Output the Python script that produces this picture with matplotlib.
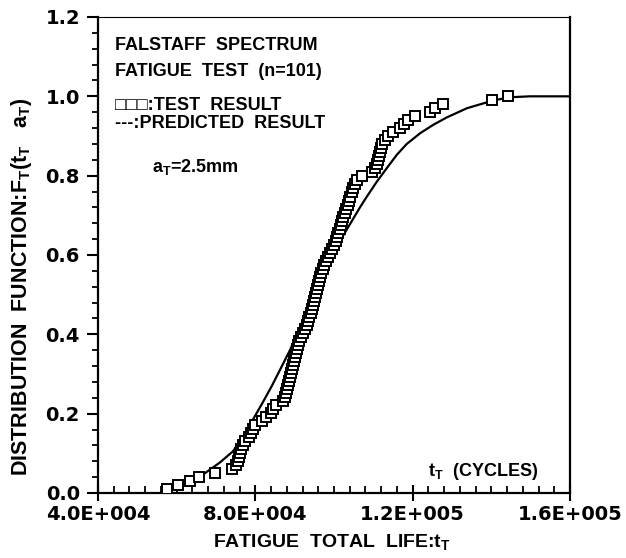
"""
Fatigue life distribution: Falstaff spectrum test vs predicted CDF.
"""
import numpy as np
import matplotlib
matplotlib.use("Agg")
import matplotlib.pyplot as plt
from matplotlib.ticker import MultipleLocator, FixedLocator, FuncFormatter

plt.rcParams["mathtext.fontset"] = "custom"
plt.rcParams["mathtext.rm"] = "Liberation Sans"
plt.rcParams["mathtext.bf"] = "Liberation Sans:bold"

# test lives (cycles), sorted, n = 101
test_life = [
    57500, 60300, 63400, 65700, 69700, 74100, 75100, 75600, 75800, 76100,
    76400, 76900, 77400, 78400, 78900, 79400, 79900, 81700, 82700, 84000,
    84500, 85200, 87000, 87500, 87800, 88000, 88300, 88600, 88800, 89100,
    89300, 89600, 89800, 90100, 90300, 90600, 90800, 91100, 91600, 92100,
    92600, 93100, 93400, 93600, 94100, 94400, 94700, 94900, 95200, 95400,
    95700, 95900, 96200, 96400, 96700, 97200, 97400, 98000, 98500, 99000,
    99500, 100000, 100500, 100800, 101000, 101500, 101800, 102000, 102300, 102800,
    103000, 103600, 103800, 104100, 104600, 104800, 105300, 105800, 107100, 109700,
    110400, 110900, 111200, 111400, 111700, 111900, 112200, 113000, 113700, 115000,
    116800, 117800, 118800, 120600, 124400, 125700, 127700, 140200, 144200,
]

# predicted distribution curve
pred_life = [
    55800, 59600, 63400, 67200, 71000, 74300, 76900, 79100, 81700, 84200,
    86500, 88800, 91300, 93900, 96400, 99000, 101800, 104800, 106600, 108400,
    110900, 113500, 116000, 118500, 121900, 125200, 128700, 133800, 138900, 142200,
    145500, 149800, 160000,
]
pred_F = [
    0.0, 0.012, 0.028, 0.05, 0.077, 0.105, 0.14, 0.18, 0.225, 0.27,
    0.315, 0.36, 0.415, 0.47, 0.53, 0.585, 0.64, 0.69, 0.72, 0.748,
    0.785, 0.82, 0.853, 0.88, 0.907, 0.928, 0.947, 0.97, 0.985, 0.993,
    0.998, 1.0, 1.0,
]

x_ticks = [40000, 80000, 120000, 160000]

n = len(test_life)
test_F = np.arange(1, n + 1) / n  # empirical distribution

fig = plt.figure(figsize=(6.26, 5.58), dpi=100)
ax = fig.add_axes([98 / 626, 1 - 493 / 558, 472 / 626, 476 / 558])

ax.plot(pred_life, pred_F, color="black", linewidth=1.6, zorder=2)
ax.plot(test_life, test_F, linestyle="none", marker="s", markersize=7.6,
        markerfacecolor="white", markeredgecolor="black", markeredgewidth=1.4,
        zorder=3)

ax.set_xlim(40000, 160000)
ax.set_ylim(0, 1.2)

ax.xaxis.set_major_locator(FixedLocator(x_ticks))
ax.xaxis.set_minor_locator(MultipleLocator(4000))
ax.xaxis.set_major_formatter(FuncFormatter(
    lambda v, p: "%.1fE+%03d" % (v / 10 ** int(np.floor(np.log10(v))),
                                 int(np.floor(np.log10(v))))))
ax.yaxis.set_major_locator(MultipleLocator(0.2))
ax.yaxis.set_minor_locator(MultipleLocator(0.04))
ax.yaxis.set_major_formatter(FuncFormatter(lambda v, p: "%.1f" % v))

ax.tick_params(axis="x", which="major", direction="inout", length=12,
               width=1.5, pad=3)
ax.tick_params(axis="x", which="minor", direction="in", length=5, width=1.3)
ax.tick_params(axis="y", which="major", direction="out", length=8,
               width=1.5, pad=5)
ax.tick_params(axis="y", which="minor", direction="out", length=4, width=1.3)
for lab in ax.get_xticklabels() + ax.get_yticklabels():
    lab.set_fontfamily("DejaVu Sans")
    lab.set_fontweight("bold")
    lab.set_fontsize(14)

for side in ["left", "bottom", "right"]:
    ax.spines[side].set_linewidth(1.6)
ax.spines["top"].set_linewidth(0.8)

txt = dict(family="Liberation Sans", weight="bold", fontsize=13,
           color="black", transform=ax.transAxes, va="center", ha="left")


def ax_xy(px, py):
    return (px - 98) / 472, (493 - py) / 476


ax.text(*ax_xy(115, 45), "FALSTAFF  SPECTRUM", **txt)
ax.text(*ax_xy(115, 71), "FATIGUE  TEST  (n=101)", **txt)
ax.text(*ax_xy(115, 106), "\u25a1\u25a1\u25a1:TEST  RESULT",
        **{**txt, "family": ["Liberation Sans", "DejaVu Sans"]})
ax.text(*ax_xy(115, 123), "---:PREDICTED  RESULT", **txt)
ax.text(*ax_xy(152, 167), r"a$\mathregular{_T}$=2.5mm", **txt)
ax.text(*ax_xy(428, 472), r"t$\mathregular{_T}$  (CYCLES)", **txt)

lab = dict(family="Liberation Sans", weight="bold", fontsize=14, color="black")
fig.text(332 / 626, 1 - 542 / 558, r"FATIGUE  TOTAL  LIFE:t$\mathregular{_T}$",
         ha="center", va="center", **lab)
fig.text(22 / 626, 1 - 287 / 558,
         r"DISTRIBUTION  FUNCTION:F$\mathregular{_T}$(t$\mathregular{_T}$   a$\mathregular{_T}$)",
         ha="center", va="center", rotation=90, fontsize=15.5,
         family="Liberation Sans", weight="bold", color="black")

fig.savefig("out.png", dpi=100)
